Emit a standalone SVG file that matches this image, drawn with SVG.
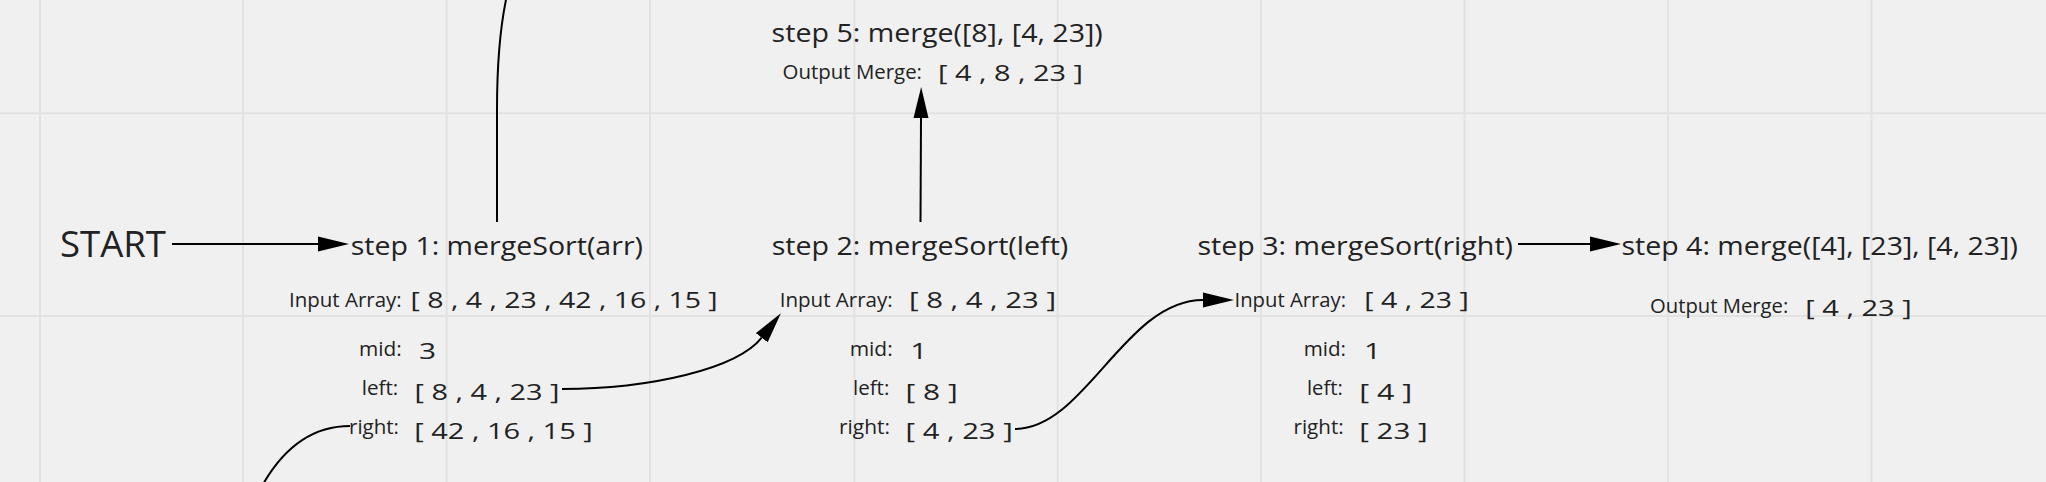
<svg xmlns="http://www.w3.org/2000/svg" width="2046" height="482" viewBox="0 0 2046 482">
<defs>
<style>
.bg{fill:#f0f0f0}
.grid line{stroke:#e2e2e2;stroke-width:2}
text{font-family:"Open Sans","Noto Sans",sans-serif;fill:#222}
.start{font-size:36px}
.title{font-size:26px}
.lbl{font-size:20.5px}
.val{font-size:22px}
.conn path{fill:none;stroke:#000;stroke-width:2}
.arr{marker-end:url(#ah)}
</style>
<marker id="ah" viewBox="0 -8 31 16" markerWidth="31" markerHeight="16" refX="0" refY="0" orient="auto" markerUnits="userSpaceOnUse">
<path d="M0,-7.5 L31,0 L0,7.5 Z" fill="#000"/>
</marker>
</defs>
<rect class="bg" x="0" y="0" width="2046" height="482"/>
<g class="grid">
<line x1="40" y1="0" x2="40" y2="482"/>
<line x1="243" y1="0" x2="243" y2="482"/>
<line x1="446.7" y1="0" x2="446.7" y2="482"/>
<line x1="650" y1="0" x2="650" y2="482"/>
<line x1="854.3" y1="0" x2="854.3" y2="482"/>
<line x1="1057.7" y1="0" x2="1057.7" y2="482"/>
<line x1="1261" y1="0" x2="1261" y2="482"/>
<line x1="1464.5" y1="0" x2="1464.5" y2="482"/>
<line x1="1668" y1="0" x2="1668" y2="482"/>
<line x1="1871.5" y1="0" x2="1871.5" y2="482"/>
<line x1="0" y1="113.3" x2="2046" y2="113.3"/>
<line x1="0" y1="316" x2="2046" y2="316"/>
</g>
<g id="start">
<text class="start" x="60" y="256.7" textLength="106" lengthAdjust="spacingAndGlyphs">START</text>
</g>
<g id="step1">
<text class="title" x="350.7" y="255" textLength="292.3" lengthAdjust="spacingAndGlyphs">step 1: mergeSort(arr)</text>
<text class="lbl" x="289" y="307.3" textLength="112.7" lengthAdjust="spacingAndGlyphs">Input Array:</text>
<text class="val" x="410.6" y="308.3" textLength="307.1" lengthAdjust="spacingAndGlyphs">[ 8 , 4 , 23 , 42 , 16 , 15 ]</text>
<text class="lbl" x="359" y="356" textLength="42.7" lengthAdjust="spacingAndGlyphs">mid:</text>
<text class="val" x="419" y="359" textLength="17.1" lengthAdjust="spacingAndGlyphs">3</text>
<text class="lbl" x="361.7" y="395" textLength="36.6" lengthAdjust="spacingAndGlyphs">left:</text>
<text class="val" x="414.6" y="400" textLength="144.8" lengthAdjust="spacingAndGlyphs">[ 8 , 4 , 23 ]</text>
<text class="lbl" x="349" y="434.3" textLength="50" lengthAdjust="spacingAndGlyphs">right:</text>
<text class="val" x="414.3" y="439.3" textLength="178.4" lengthAdjust="spacingAndGlyphs">[ 42 , 16 , 15 ]</text>
</g>
<g id="step2">
<text class="title" x="771.7" y="255" textLength="296.6" lengthAdjust="spacingAndGlyphs">step 2: mergeSort(left)</text>
<text class="lbl" x="779.7" y="307.3" textLength="113" lengthAdjust="spacingAndGlyphs">Input Array:</text>
<text class="val" x="909" y="308.3" textLength="147" lengthAdjust="spacingAndGlyphs">[ 8 , 4 , 23 ]</text>
<text class="lbl" x="849.7" y="356" textLength="43" lengthAdjust="spacingAndGlyphs">mid:</text>
<text class="val" x="910.2" y="359.3" textLength="17.1" lengthAdjust="spacingAndGlyphs">1</text>
<text class="lbl" x="853" y="395" textLength="36.3" lengthAdjust="spacingAndGlyphs">left:</text>
<text class="val" x="905.6" y="400" textLength="52.1" lengthAdjust="spacingAndGlyphs">[ 8 ]</text>
<text class="lbl" x="839" y="434.3" textLength="51" lengthAdjust="spacingAndGlyphs">right:</text>
<text class="val" x="905.6" y="439.3" textLength="107.1" lengthAdjust="spacingAndGlyphs">[ 4 , 23 ]</text>
</g>
<g id="step3">
<text class="title" x="1197.5" y="255" textLength="315.5" lengthAdjust="spacingAndGlyphs">step 3: mergeSort(right)</text>
<text class="lbl" x="1234.5" y="307.3" textLength="111.5" lengthAdjust="spacingAndGlyphs">Input Array:</text>
<text class="val" x="1364.3" y="308.3" textLength="104.4" lengthAdjust="spacingAndGlyphs">[ 4 , 23 ]</text>
<text class="lbl" x="1303.7" y="356" textLength="42.3" lengthAdjust="spacingAndGlyphs">mid:</text>
<text class="val" x="1364" y="359" textLength="17.1" lengthAdjust="spacingAndGlyphs">1</text>
<text class="lbl" x="1307" y="395" textLength="35.8" lengthAdjust="spacingAndGlyphs">left:</text>
<text class="val" x="1359.3" y="400" textLength="53" lengthAdjust="spacingAndGlyphs">[ 4 ]</text>
<text class="lbl" x="1293.5" y="434.3" textLength="50.2" lengthAdjust="spacingAndGlyphs">right:</text>
<text class="val" x="1359.3" y="439.3" textLength="68.4" lengthAdjust="spacingAndGlyphs">[ 23 ]</text>
</g>
<g id="step4">
<text class="title" x="1621.5" y="255" textLength="396.3" lengthAdjust="spacingAndGlyphs">step 4: merge([4], [23], [4, 23])</text>
<text class="lbl" x="1650" y="313.3" textLength="138.3" lengthAdjust="spacingAndGlyphs">Output Merge:</text>
<text class="val" x="1805.3" y="316" textLength="106.4" lengthAdjust="spacingAndGlyphs">[ 4 , 23 ]</text>
</g>
<g id="step5">
<text class="title" x="771.6" y="41.7" textLength="331.2" lengthAdjust="spacingAndGlyphs">step 5: merge([8], [4, 23])</text>
<text class="lbl" x="782.6" y="79" textLength="139.4" lengthAdjust="spacingAndGlyphs">Output Merge:</text>
<text class="val" x="938" y="81" textLength="145" lengthAdjust="spacingAndGlyphs">[ 4 , 8 , 23 ]</text>
</g>
<g class="conn" id="connectors">
<path class="arr" d="M172,244 L318,244"/>
<path d="M497,222 L497,110 Q497,40 507,-5"/>
<path class="arr" d="M562,389 C650,389 737,369 761.7,337.7"/>
<path class="arr" d="M920.5,222 L921,118"/>
<path class="arr" d="M1015,429 C1085,429 1125,300 1203,300"/>
<path class="arr" d="M1518,244 L1590,244"/>
<path d="M350,426 C315,426 285,445 262,486"/>
</g>
</svg>
